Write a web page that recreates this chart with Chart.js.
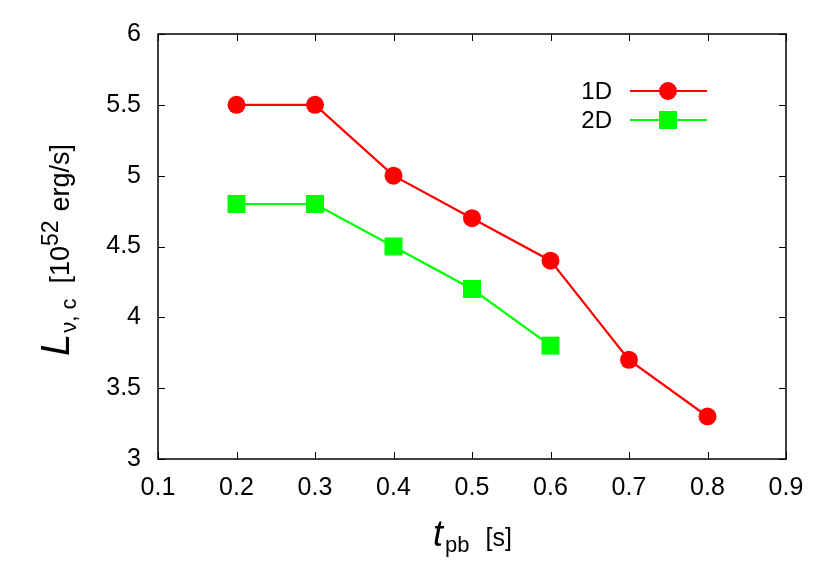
<!DOCTYPE html>
<html>
<head>
<meta charset="utf-8">
<script src="https://cdn.jsdelivr.net/npm/chart.js@4/dist/chart.umd.min.js"></script>
<style>
html,body{margin:0;padding:0;background:#fff;}
#wrap{width:830px;height:581px;}
</style>
</head>
<body>
<div id="wrap"><canvas id="c" width="830" height="581"></canvas></div>
<script>
const xTicks = [0.1, 0.2, 0.3, 0.4, 0.5, 0.6, 0.7, 0.8, 0.9];
const yTicks = [3, 3.5, 4, 4.5, 5, 5.5, 6];
const t1D = [0.2, 0.3, 0.4, 0.5, 0.6, 0.7, 0.8];
const L1D = [5.5, 5.5, 5.0, 4.7, 4.4, 3.7, 3.3];
const t2D = [0.2, 0.3, 0.4, 0.5, 0.6];
const L2D = [4.8, 4.8, 4.5, 4.2, 3.8];
const seriesNames = ['1D', '2D'];

const FONT = "'Liberation Sans', Arial, Helvetica, sans-serif";

const framePlugin = {
  id: 'frame',
  afterDatasetsDraw(chart) {
    const {ctx, chartArea: a, scales: {x, y}} = chart;
    ctx.save();
    ctx.strokeStyle = '#000';
    ctx.lineWidth = 1.5;
    ctx.strokeRect(a.left, a.top, a.right - a.left, a.bottom - a.top);
    ctx.lineWidth = 1;
    const tl = 7;
    ctx.beginPath();
    xTicks.forEach(v => {
      const px = Math.round(x.getPixelForValue(v)) + 0.5;
      ctx.moveTo(px, a.bottom); ctx.lineTo(px, a.bottom - tl);
      ctx.moveTo(px, a.top); ctx.lineTo(px, a.top + tl);
    });
    yTicks.forEach(v => {
      const py = Math.round(y.getPixelForValue(v)) + 0.5;
      ctx.moveTo(a.left, py); ctx.lineTo(a.left + tl, py);
      ctx.moveTo(a.right, py); ctx.lineTo(a.right - tl, py);
    });
    ctx.stroke();

    // legend
    const items = chart.data.datasets;
    items.forEach((ds, i) => {
      const yy = 91 + i * 29;
      ctx.fillStyle = '#000';
      ctx.font = '24px ' + FONT;
      ctx.textAlign = 'right';
      ctx.textBaseline = 'middle';
      ctx.fillText(seriesNames[i], 612, yy + 1);
      ctx.strokeStyle = ds.borderColor;
      ctx.lineWidth = 2.2;
      ctx.beginPath();
      ctx.moveTo(630, yy); ctx.lineTo(707, yy);
      ctx.stroke();
      ctx.fillStyle = ds.backgroundColor;
      if (ds.pointStyle === 'rect') {
        ctx.fillRect(668 - 9, yy - 9, 18, 18);
      } else {
        ctx.beginPath();
        ctx.arc(668, yy, 9, 0, Math.PI * 2);
        ctx.fill();
      }
    });

    // x title
    ctx.fillStyle = '#000';
    ctx.textAlign = 'left';
    ctx.textBaseline = 'alphabetic';
    let xx = 433, by = 546;
    ctx.font = 'italic 36px ' + FONT;
    ctx.fillText('t', xx, by);
    xx += ctx.measureText('t').width + 2;
    ctx.font = '22px ' + FONT;
    ctx.fillText('pb', xx, by + 6);
    xx += ctx.measureText('pb').width + 16;
    ctx.font = '25px ' + FONT;
    ctx.fillText('[s]', xx, by);

    // y title (rotated)
    ctx.save();
    ctx.translate(69, 356);
    ctx.rotate(-Math.PI / 2);
    let p = 0;
    ctx.font = 'italic 40px ' + FONT;
    ctx.fillText('L', p, 0);
    p += ctx.measureText('L').width + 1;
    ctx.font = '22px ' + FONT;
    ctx.fillText('ν, c', p, 7);
    p += ctx.measureText('ν, c').width + 15;
    ctx.font = '27px ' + FONT;
    ctx.fillText('[10', p, 0);
    p += ctx.measureText('[10').width;
    ctx.font = '23px ' + FONT;
    ctx.fillText('52', p, -11);
    p += ctx.measureText('52').width + 9;
    ctx.font = '27px ' + FONT;
    ctx.fillText('erg/s]', p, 0);
    ctx.restore();

    ctx.restore();
  }
};

new Chart(document.getElementById('c'), {
  type: 'line',
  data: {
    datasets: [
      {
        label: seriesNames[0],
        data: t1D.map((t, i) => ({x: t, y: L1D[i]})),
        borderColor: '#ff0000',
        backgroundColor: '#ff0000',
        borderWidth: 2.2,
        pointStyle: 'circle',
        pointRadius: 9,
        pointBorderWidth: 0,
        pointHoverRadius: 9
      },
      {
        label: seriesNames[1],
        data: t2D.map((t, i) => ({x: t, y: L2D[i]})),
        borderColor: '#00ff00',
        backgroundColor: '#00ff00',
        borderWidth: 2.2,
        pointStyle: 'rect',
        pointRadius: 12.7,
        pointBorderWidth: 0,
        pointHoverRadius: 12.7
      }
    ]
  },
  options: {
    responsive: false,
    animation: false,
    events: [],
    layout: {padding: {left: 0, top: 34, right: 44, bottom: 0}},
    plugins: {legend: {display: false}, tooltip: {enabled: false}},
    scales: {
      x: {
        type: 'linear',
        min: 0.1, max: 0.9,
        afterBuildTicks: s => { s.ticks = xTicks.map(v => ({value: v})); },
        afterFit: s => { s.height = 122; },
        grid: {display: false, drawTicks: false},
        border: {display: false},
        ticks: {
          color: '#000',
          font: {family: FONT, size: 25},
          padding: 14,
          maxRotation: 0,
          callback: v => String(v)
        }
      },
      y: {
        type: 'linear',
        min: 3, max: 6,
        afterBuildTicks: s => { s.ticks = yTicks.map(v => ({value: v})); },
        afterFit: s => { s.width = 158; },
        grid: {display: false, drawTicks: false},
        border: {display: false},
        ticks: {
          color: '#000',
          font: {family: FONT, size: 25},
          padding: 17,
          callback: v => String(v)
        }
      }
    }
  },
  plugins: [framePlugin]
});
</script>
</body>
</html>
